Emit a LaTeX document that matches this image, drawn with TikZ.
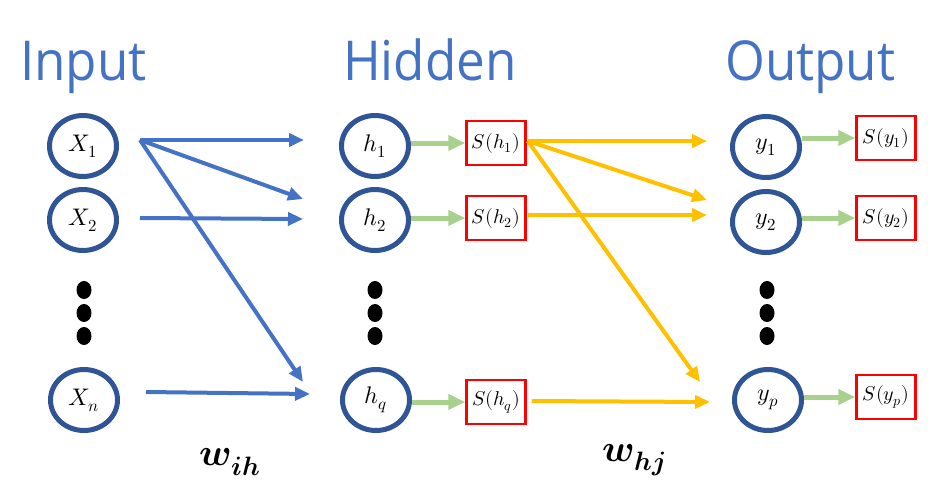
\documentclass[tikz,border=0pt]{standalone}
\usepackage{amsmath}
\usepackage{unicode-math}
\setmathfont{Latin Modern Math}
\newfontfamily\titlefont{Open Sans}
\usetikzlibrary{shapes.geometric,arrows.meta}
\definecolor{netblue}{HTML}{4472C4}
\definecolor{ringblue}{HTML}{2F5597}
\definecolor{actgreen}{HTML}{A9D18E}
\definecolor{wyellow}{HTML}{FFC000}

\begin{document}
\begin{tikzpicture}[x=1pt,y=-1pt,
    neuron/.style={ellipse,draw=ringblue,line width=5pt,minimum width=67pt,minimum height=61pt,inner sep=0pt,font=\fontsize{24}{28}\selectfont},
    act/.style={rectangle,draw=red,line width=2.5pt,minimum width=59pt,minimum height=44pt,inner sep=0pt,font=\fontsize{20}{24}\selectfont},
    layer/.style={anchor=base west,inner sep=0pt,text=netblue,xscale=0.93,font=\titlefont\fontsize{55}{60}\selectfont},
    dotnode/.style={ellipse,fill=black,minimum width=15pt,minimum height=18pt,inner sep=0pt},
    wlabel/.style={font=\fontsize{38}{40}\selectfont},
    wih/.style={draw=netblue,line width=4pt,-{Triangle[length=15pt,width=13pt]}},
    whj/.style={draw=wyellow,line width=4pt,-{Triangle[length=15pt,width=13pt]}},
    sig/.style={draw=actgreen,line width=5pt,-{Triangle[length=17pt,width=15pt]}}]
        \useasboundingbox (0,0) rectangle (938,501);
        \node[layer] (tin) at (20,80) {Input};
        \node[layer] (thid) at (343,80) {Hidden};
        \node[layer] (tout) at (725,80) {Output};

        \node[neuron] (X1) at (83,146) {$X_1$};
        \node[neuron] (X2) at (83,220) {$X_2$};
        \node[neuron] (Xn) at (84,400) {$X_n$};
        \node[neuron] (h1) at (375,146) {$h_1$};
        \node[neuron] (h2) at (375,220) {$h_2$};
        \node[neuron] (hq) at (376,400) {$h_q$};
        \node[neuron] (y1) at (766,147) {$y_1$};
        \node[neuron] (y2) at (766,222) {$y_2$};
        \node[neuron] (yp) at (768,400) {$y_p$};
        \foreach \x/\n in {84/a,375/b,767/c}
            \foreach \y [count=\k] in {290,313,336}
                \node[dotnode] (d\n\k) at (\x,\y) {};

        \node[act] (Sh1) at (496,143) {$S(h_1)$};
        \node[act] (Sh2) at (496,218) {$S(h_2)$};
        \node[act] (Shq) at (496,402) {$S(h_q)$};
        \node[act] (Sy1) at (886,138) {$S(y_1)$};
        \node[act] (Sy2) at (886,218) {$S(y_2)$};
        \node[act] (Syp) at (886,397) {$S(y_p)$};

        \draw[wih] ([shift={(21,-6)}]X1.east) coordinate (oX1) -- ([shift={(-35,-6)}]h1.west);
        \draw[wih] (oX1) -- ([shift={(-36,-21)}]h2.west);
        \draw[wih] (oX1) -- ([shift={(-37,-18)}]hq.west);
        \draw[wih] ([shift={(21,-2)}]X2.east) -- ([shift={(-36,-1)}]h2.west);
        \draw[wih] ([shift={(26,-8)}]Xn.east) -- ([shift={(-30,-6)}]hq.west);

        \draw[sig] (h1.east |- Sh1) -- (Sh1.west);
        \draw[sig] (h2.east |- Sh2) -- (Sh2.west);
        \draw[sig] (hq.east |- Shq) -- (Shq.west);
        \draw[sig] (y1.east |- Sy1) -- (Sy1.west);
        \draw[sig] (y2.east |- Sy2) -- (Sy2.west);
        \draw[sig] (yp.east |- Syp) -- (Syp.west);

        \draw[whj] ([shift={(1,-2)}]Sh1.east) coordinate (oS1) -- ([shift={(-23,-6)}]y1.west);
        \draw[whj] (oS1) -- ([shift={(-23,-22)}]y2.west);
        \draw[whj] (oS1) -- ([shift={(-32,-18)}]yp.west);
        \draw[whj] ([shift={(1,-3)}]Sh2.east) -- ([shift={(-23,-7)}]y2.west);
        \draw[whj] ([shift={(5,-1)}]Shq.east) -- ([shift={(-22,2)}]yp.west);

        \node[wlabel] (lwih) at (230,462) {$\symbfit{w}_{\symbfit{ih}}$};
        \node[wlabel] (lwhj) at (634,460) {$\symbfit{w}_{\symbfit{hj}}$};
    \end{tikzpicture}
\end{document}
